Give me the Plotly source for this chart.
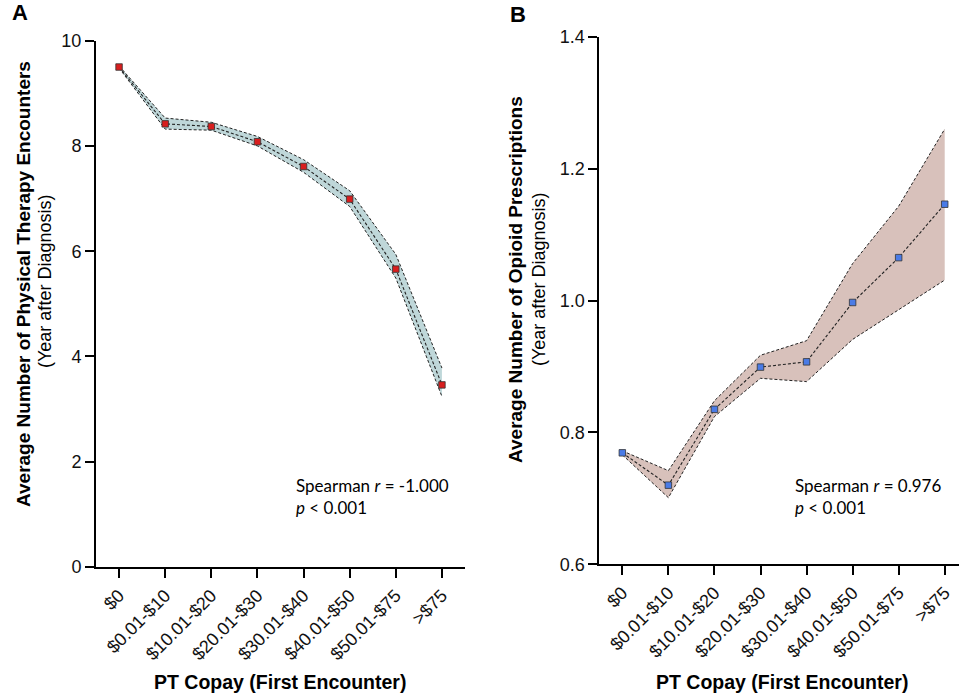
import plotly.graph_objects as go

# Copay categories (first PT encounter)
copay = ["$0", "$0.01-$10", "$10.01-$20", "$20.01-$30",
         "$30.01-$40", "$40.01-$50", "$50.01-$75", ">$75"]

# Panel A: PT encounters in year after diagnosis (mean with 95% CI)
pt_mean = [9.50, 8.42, 8.37, 8.08, 7.61, 6.99, 5.66, 3.46]
pt_upper = [9.52, 8.53, 8.45, 8.18, 7.74, 7.15, 5.94, 3.78]
pt_lower = [9.48, 8.32, 8.30, 8.00, 7.50, 6.85, 5.49, 3.24]

# Panel B: opioid prescriptions in year after diagnosis (mean with 95% CI)
op_mean = [0.769, 0.720, 0.835, 0.899, 0.907, 0.997, 1.065, 1.146]
op_upper = [0.772, 0.742, 0.848, 0.917, 0.939, 1.056, 1.143, 1.260]
op_lower = [0.766, 0.701, 0.824, 0.882, 0.877, 0.941, 0.986, 1.031]

W, H = 959, 695
FONT = "Arial"
STAT_FONT = "Lato"
DASH = "3px,2px"


def px_x(p):
    return p / W


def px_y(p):
    return 1 - p / H


fig = go.Figure()


def add_panel(xa, ya, mean, upper, lower, fill, marker):
    fig.add_trace(go.Scatter(
        x=copay, y=lower, mode="lines", xaxis=xa, yaxis=ya,
        line=dict(color="#222", width=1, dash=DASH), showlegend=False,
        hoverinfo="skip"))
    fig.add_trace(go.Scatter(
        x=copay, y=upper, mode="lines", xaxis=xa, yaxis=ya, fill="tonexty",
        fillcolor=fill, line=dict(color="#222", width=1, dash=DASH),
        showlegend=False, hoverinfo="skip"))
    fig.add_trace(go.Scatter(
        x=copay, y=mean, mode="lines+markers", xaxis=xa, yaxis=ya,
        line=dict(color="#222", width=1.1, dash=DASH),
        marker=dict(symbol="square", size=6.5, color=marker,
                    line=dict(color="#333", width=0.8)),
        showlegend=False))


add_panel("x", "y", pt_mean, pt_upper, pt_lower, "rgba(188,213,215,0.95)", "#d81e1e")
add_panel("x2", "y2", op_mean, op_upper, op_lower, "rgba(214,190,183,0.95)", "#4a7be6")

axis_common = dict(showline=True, linecolor="black", linewidth=2,
                   ticks="outside", ticklen=9, tickwidth=2, tickcolor="black",
                   showgrid=False, zeroline=False, mirror=False,
                   automargin=False,
                   tickfont=dict(family=FONT, size=18, color="#111"))

xcommon = dict(axis_common, type="category", tickangle=-45,
               tickfont=dict(family=FONT, size=18, color="#111"))

fig.update_layout(
    width=W, height=H, autosize=False,
    margin=dict(l=0, r=0, t=0, b=0, pad=0),
    paper_bgcolor="white", plot_bgcolor="white",
    font=dict(family=FONT),
    xaxis=dict(xcommon, domain=[px_x(96), px_x(465)], range=[-0.5, 7.5],
               anchor="y"),
    yaxis=dict(axis_common, domain=[px_y(567), px_y(40.7)], range=[0, 10],
               tickvals=[0, 2, 4, 6, 8, 10], anchor="x"),
    xaxis2=dict(xcommon, domain=[px_x(599.3), 1.0], range=[-0.5, 7.31],
                anchor="y2"),
    yaxis2=dict(axis_common, domain=[px_y(564.3), px_y(36.7)],
                range=[0.6, 1.4], tickvals=[0.6, 0.8, 1.0, 1.2, 1.4],
                tickformat=".1f", anchor="x2"),
)

annotations = []


def paper_text(x, y, text, size, bold=False, angle=0, family=FONT,
               xanchor="center", yanchor="middle", align="center"):
    if bold:
        text = f"<b>{text}</b>"
    annotations.append(dict(
        x=px_x(x), y=px_y(y), xref="paper", yref="paper", text=text,
        showarrow=False, textangle=angle, xanchor=xanchor, yanchor=yanchor,
        align=align, font=dict(family=family, size=size, color="black")))


# Panel letters
paper_text(20, 13, "A", 22, bold=True)
paper_text(518, 15, "B", 22, bold=True)

# Y-axis titles (two lines)
paper_text(23, 284, "Average Number of Physical Therapy Encounters", 19,
           bold=True, angle=-90)
paper_text(45, 282, "(Year after Diagnosis)", 18, angle=-90)
paper_text(516, 280, "Average Number of Opioid Prescriptions", 19,
           bold=True, angle=-90)
paper_text(539, 280, "(Year after Diagnosis)", 18, angle=-90)

# X-axis titles
paper_text(280, 682, "PT Copay (First Encounter)", 19.5, bold=True)
paper_text(782, 682, "PT Copay (First Encounter)", 19.5, bold=True)

# Correlation statistics
paper_text(294, 496, "Spearman <i>r</i> = -1.000<br><i>p</i> < 0.001", 17,
           family=STAT_FONT, xanchor="left", align="left")
paper_text(793, 496, "Spearman <i>r</i> = 0.976<br><i>p</i> < 0.001", 17,
           family=STAT_FONT, xanchor="left", align="left")

fig.update_layout(annotations=annotations)

fig.write_html("out.html")
